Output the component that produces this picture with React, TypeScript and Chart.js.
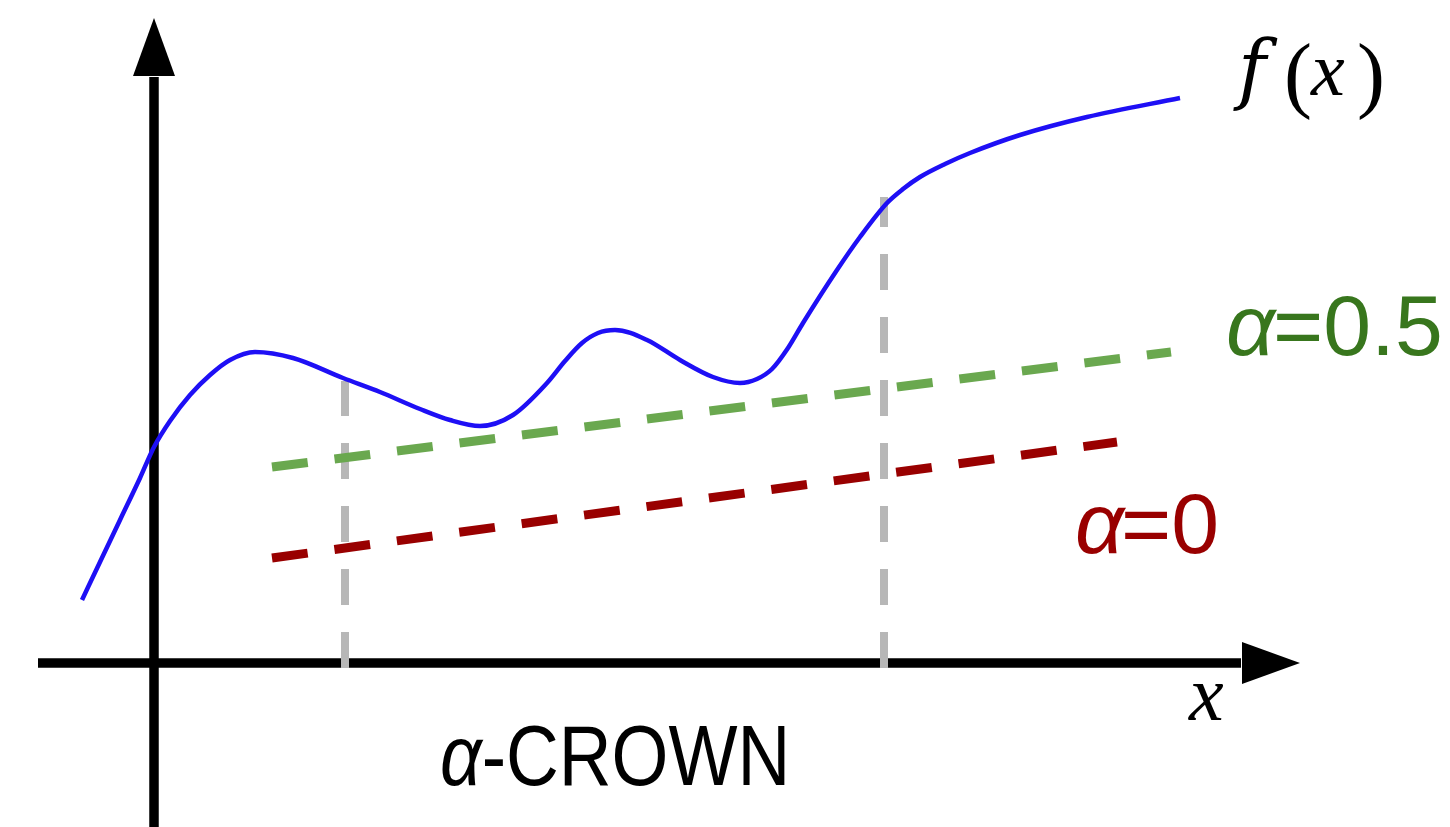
import React, { useEffect, useRef } from "react";
import { Chart, registerables } from "chart.js";

Chart.register(...registerables);

// ---- data (axes origin at (0,0); 1 unit = 100 px of the reference) ----
const curveX = [-0.72, -0.54, -0.34, -0.14, 0, 0.16, 0.36, 0.56, 0.76, 1.01, 1.39, 1.89, 2.26, 2.66, 2.96, 3.26, 3.59, 3.93, 4.11, 4.28, 4.44, 4.61, 4.93, 5.26, 5.59, 5.86, 6.03, 6.18, 6.34, 6.49, 6.83, 7.06, 7.33, 7.49, 7.66, 7.91, 8.16, 8.66, 9.33, 10.26];
const curveY = [0.63, 1.01, 1.43, 1.85, 2.16, 2.42, 2.68, 2.88, 3.03, 3.11, 3.05, 2.85, 2.71, 2.54, 2.43, 2.37, 2.48, 2.8, 3.02, 3.2, 3.3, 3.33, 3.23, 3.03, 2.86, 2.8, 2.84, 2.94, 3.15, 3.4, 3.93, 4.26, 4.6, 4.74, 4.86, 4.99, 5.1, 5.28, 5.46, 5.65];

const alphaHalfX = [1.18, 10.17];
const alphaHalfY = [1.96, 3.11];
const alphaZeroX = [1.18, 9.63];
const alphaZeroY = [1.05, 2.21];

const splitX = [1.91, 7.3];
const splitTopY = [2.82, 4.66];
const splitBaseY = -0.05;

const xRange = [-1.54, 12.96];
const yRange = [-1.64, 6.63];

const labelF = ["f", "(", "x", ")"];
const labelX = "x";
const labelAlphaHalf = ["α", "=0.5"];
const labelAlphaZero = ["α", "=0"];
const labelTitle = ["α", "-CROWN"];

const pts = (xs: number[], ys: number[]) => xs.map((x, i) => ({ x, y: ys[i] }));

const axesPlugin = {
  id: "arrowAxes",
  beforeDatasetsDraw(chart: any) {
    const { ctx, scales, chartArea } = chart;
    const sx = scales.x;
    const sy = scales.y;
    const ox = sx.getPixelForValue(0);
    const oy = sy.getPixelForValue(0);
    ctx.save();
    ctx.strokeStyle = "#000";
    ctx.fillStyle = "#000";
    ctx.lineWidth = 9.5;
    ctx.lineCap = "butt";
    // vertical axis
    const vBase = sy.getPixelForValue(5.87);
    const vTip = sy.getPixelForValue(6.45);
    ctx.beginPath();
    ctx.moveTo(ox, chartArea.bottom);
    ctx.lineTo(ox, vBase + 1);
    ctx.stroke();
    ctx.beginPath();
    ctx.moveTo(ox, vTip);
    ctx.lineTo(ox - 21, vBase);
    ctx.lineTo(ox + 21, vBase);
    ctx.closePath();
    ctx.fill();
    // horizontal axis
    const hLeft = sx.getPixelForValue(-1.16);
    const hBase = sx.getPixelForValue(10.88);
    const hTip = sx.getPixelForValue(11.46);
    ctx.beginPath();
    ctx.moveTo(hLeft, oy);
    ctx.lineTo(hBase - 1, oy);
    ctx.stroke();
    ctx.beginPath();
    ctx.moveTo(hTip, oy);
    ctx.lineTo(hBase, oy - 21);
    ctx.lineTo(hBase, oy + 21);
    ctx.closePath();
    ctx.fill();
    ctx.restore();
  },
};

const labelsPlugin = {
  id: "labels",
  afterDatasetsDraw(chart: any) {
    const { ctx } = chart;
    ctx.save();
    ctx.textBaseline = "alphabetic";
    ctx.textAlign = "left";

    // f(x)
    ctx.fillStyle = "#000";
    ctx.font = 'italic 76px "DejaVu Serif"';
    ctx.fillText(labelF[0], 1238, 95);
    ctx.font = '84px "Liberation Serif"';
    ctx.fillText(labelF[1], 1284, 102);
    ctx.font = 'italic 76px "Liberation Serif"';
    ctx.fillText(labelF[2], 1311, 95);
    ctx.font = '84px "Liberation Serif"';
    ctx.fillText(labelF[3], 1357, 102);

    // x axis label
    ctx.font = 'italic 78px "Liberation Serif"';
    ctx.fillText(labelX, 1189, 720);

    // alpha = 0.5
    ctx.fillStyle = "#38761d";
    ctx.font = 'italic 86px "Liberation Sans"';
    ctx.fillText(labelAlphaHalf[0], 1226, 355);
    ctx.font = '86px "Liberation Sans"';
    ctx.fillText(labelAlphaHalf[1], 1273, 355);

    // alpha = 0
    ctx.fillStyle = "#990000";
    ctx.font = 'italic 86px "Liberation Sans"';
    ctx.fillText(labelAlphaZero[0], 1075, 553);
    ctx.font = '86px "Liberation Sans"';
    ctx.fillText(labelAlphaZero[1], 1121, 553);

    // alpha-CROWN
    ctx.fillStyle = "#000";
    ctx.translate(440, 785);
    ctx.scale(0.86, 1);
    ctx.font = 'italic 85px "Liberation Sans"';
    ctx.fillText(labelTitle[0], 0, 0);
    const w = ctx.measureText(labelTitle[0]).width;
    ctx.font = '85px "Liberation Sans"';
    ctx.fillText(labelTitle[1], w, 0);
    ctx.restore();
  },
};

export default function App() {
  const ref = useRef<HTMLCanvasElement | null>(null);
  useEffect(() => {
    if (!ref.current) return;
    const dash = [36, 27];
    const chart = new Chart(ref.current, {
      type: "line",
      data: {
        datasets: [
          {
            label: "f(x)",
            data: pts(curveX, curveY),
            borderColor: "#1e0ff5",
            borderWidth: 4.5,
            pointRadius: 0,
            cubicInterpolationMode: "monotone",
            fill: false,
          },
          {
            label: "α=0.5",
            data: pts(alphaHalfX, alphaHalfY),
            borderColor: "#6aa84f",
            borderWidth: 9,
            borderDash: dash,
            borderCapStyle: "butt",
            pointRadius: 0,
            fill: false,
          },
          {
            label: "α=0",
            data: pts(alphaZeroX, alphaZeroY),
            borderColor: "#990000",
            borderWidth: 9,
            borderDash: dash,
            borderCapStyle: "butt",
            pointRadius: 0,
            fill: false,
          },
          ...splitX.map((sx, i) => ({
            label: "split" + i,
            data: [
              { x: sx, y: splitBaseY },
              { x: sx, y: splitTopY[i] },
            ],
            borderColor: "#b7b7b7",
            borderWidth: 8,
            borderDash: dash,
            borderCapStyle: "butt",
            pointRadius: 0,
            fill: false,
          })),
        ],
      },
      options: {
        animation: false,
        responsive: false,
        events: [],
        layout: { padding: 0 },
        plugins: { legend: { display: false }, tooltip: { enabled: false } },
        scales: {
          x: { type: "linear", min: xRange[0], max: xRange[1], display: false },
          y: { type: "linear", min: yRange[0], max: yRange[1], display: false },
        },
      } as any,
      plugins: [axesPlugin, labelsPlugin],
    } as any);
    return () => chart.destroy();
  }, []);
  return (
    <div style={{ position: "fixed", left: 0, top: 0, width: 1450, height: 827, background: "#fff" }}>
      <canvas ref={ref} width={1450} height={827} style={{ display: "block" }} />
    </div>
  );
}
